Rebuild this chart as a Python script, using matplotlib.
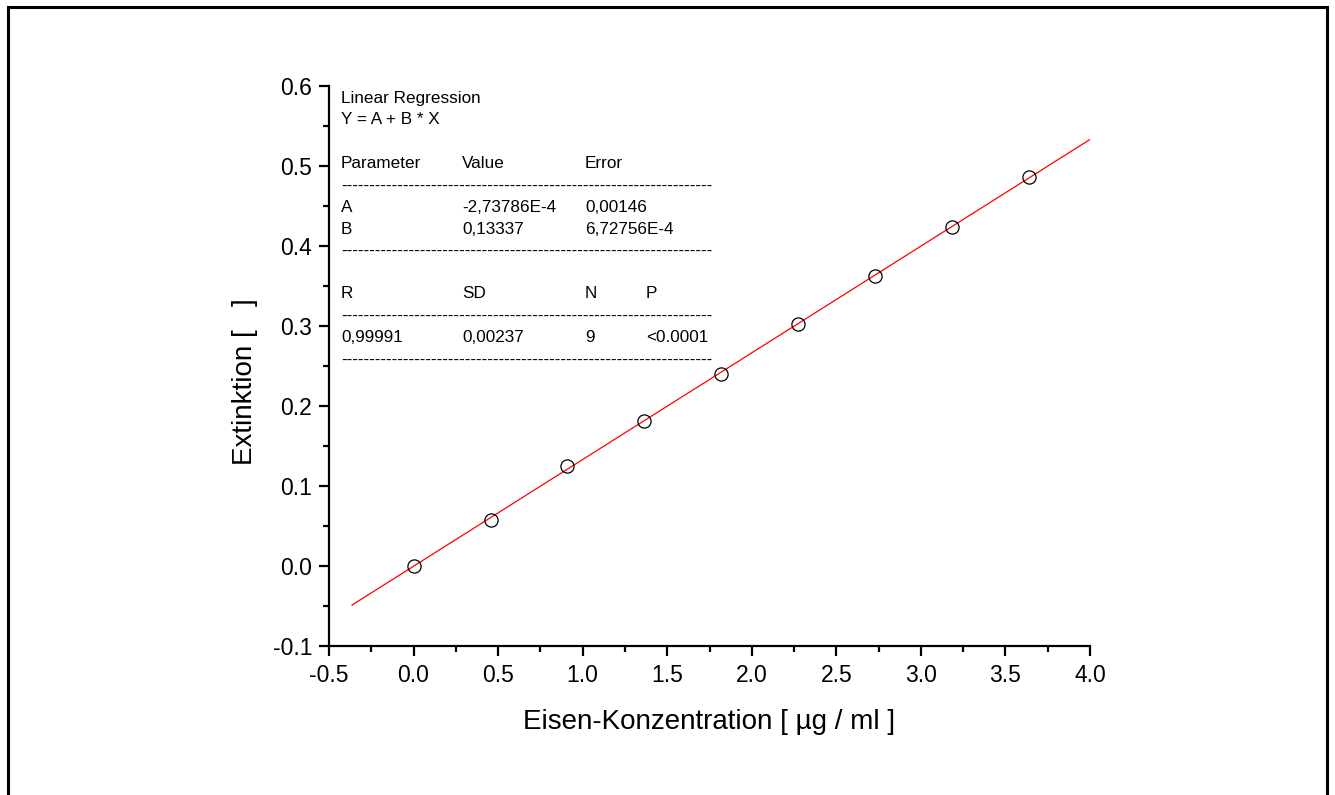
import matplotlib
matplotlib.use("Agg")
import matplotlib.pyplot as plt
from matplotlib.patches import Rectangle
from matplotlib.ticker import MultipleLocator, FormatStrFormatter
import numpy as np

plt.rcParams["font.family"] = ["Liberation Sans", "DejaVu Sans"]

# Calibration data: iron concentration vs. extinction
konzentration = [0.0, 0.455, 0.91, 1.365, 1.82, 2.275, 2.73, 3.185, 3.64]
extinktion = [0.0, 0.058, 0.125, 0.181, 0.240, 0.302, 0.363, 0.424, 0.486]

# Linear regression results
param_a = -2.73786e-4
param_b = 0.13337
fit_range = [-0.364, 4.0]

table_header = ["Parameter", "Value", "Error"]
table_rows = [["A", "-2,73786E-4", "0,00146"],
              ["B", "0,13337", "6,72756E-4"]]
stats_header = ["R", "SD", "N", "P"]
stats_values = ["0,99991", "0,00237", "9", "<0.0001"]

W, H = 1335, 795
fig = plt.figure(figsize=(W / 100, H / 100), dpi=100)

def fx(px):
    return px / W

def fy(py):
    return 1 - py / H

# outer frame
fig.patches.append(Rectangle((fx(8), fy(830)), fx(1327) - fx(8), fy(7) - fy(830),
                             transform=fig.transFigure, fill=False,
                             edgecolor="black", linewidth=2.2, clip_on=False))

ax = fig.add_axes([fx(329), fy(646), fx(1090) - fx(329), fy(86) - fy(646)])

xf = np.array(fit_range)
ax.plot(xf, param_a + param_b * xf, color="red", lw=0.9, zorder=2)
ax.plot(konzentration, extinktion, "o", ms=9.5, mfc="none", mec="black",
        mew=0.9, zorder=3)

ax.set_xlim(-0.5, 4.0)
ax.set_ylim(-0.1, 0.6)
ax.xaxis.set_major_locator(MultipleLocator(0.5))
ax.xaxis.set_minor_locator(MultipleLocator(0.25))
ax.yaxis.set_major_locator(MultipleLocator(0.1))
ax.yaxis.set_minor_locator(MultipleLocator(0.05))
ax.xaxis.set_major_formatter(FormatStrFormatter("%.1f"))
ax.yaxis.set_major_formatter(FormatStrFormatter("%.1f"))

for s in ["top", "right"]:
    ax.spines[s].set_visible(False)
for s in ["left", "bottom"]:
    ax.spines[s].set_linewidth(1.6)

ax.tick_params(which="major", direction="out", length=7, width=1.6,
               labelsize=16.5, pad=5)
ax.tick_params(axis="x", which="major", pad=6)
ax.tick_params(which="minor", direction="out", length=4, width=1.6)

ax.set_xlabel("Eisen-Konzentration [ µg / ml ]", fontsize=20)
ax.xaxis.set_label_coords(0.5, -0.113)
fig.text(fx(245), fy(382), "Extinktion [   ]", fontsize=20, rotation=90,
         ha="center", va="center")

# regression summary table
fs = 12.3
col_x = [341, 462, 585, 646]
dashes = "-" * 66

def put(px, py, s):
    fig.text(fx(px), fy(py), s, fontsize=fs, ha="left", va="center")

put(col_x[0], 99, "Linear Regression")
put(col_x[0], 120, "Y = A + B * X")
for i, s in enumerate(table_header):
    put(col_x[i], 164, s)
put(col_x[0], 186, dashes)
for r, row in enumerate(table_rows):
    for i, s in enumerate(row):
        put(col_x[i], 208 + 21 * r, s)
put(col_x[0], 251, dashes)
for i, s in enumerate(stats_header):
    put(col_x[i], 294, s)
put(col_x[0], 316, dashes)
for i, s in enumerate(stats_values):
    put(col_x[i], 338, s)
put(col_x[0], 360, dashes)

fig.savefig("out.png", dpi=100)
